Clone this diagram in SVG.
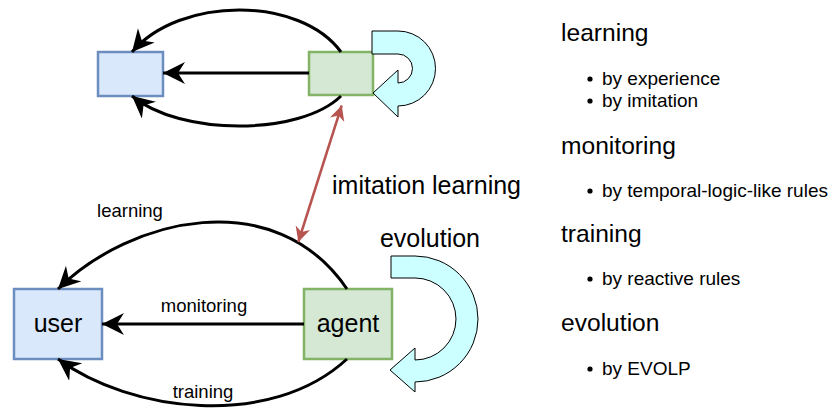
<svg xmlns="http://www.w3.org/2000/svg" width="828" height="411" viewBox="0 0 828 411">
<style>
.blue{fill:#dae8fc;stroke:#6c8ebf;stroke-width:2.5}
.green{fill:#d5e8d4;stroke:#82b366;stroke-width:2.5}
.cyan{fill:#ccffff;stroke:#000;stroke-width:1;stroke-linejoin:miter}
.edge{fill:none;stroke:#000;stroke-width:3;marker-end:url(#ah)}
.red{fill:none;stroke:#b85450;stroke-width:2.5;marker-start:url(#rh);marker-end:url(#rh)}
text{font-family:"Liberation Sans",Arial,Helvetica,sans-serif;fill:#000}
.big{font-size:25px}
.head{font-size:24.6px}
.bul{font-size:19px}
.lbl{font-size:18.5px}
</style>
<defs>
<marker id="ah" markerUnits="userSpaceOnUse" markerWidth="24" markerHeight="24" refX="22" refY="11" orient="auto" viewBox="0 0 24 24">
<path d="M0,0 L22,11 L0,22 L7,11 Z" fill="#000"/>
</marker>
<marker id="rh" markerUnits="userSpaceOnUse" markerWidth="18" markerHeight="18" refX="15" refY="8" orient="auto-start-reverse" viewBox="0 0 18 18">
<path d="M0,0.5 L15,8 L0,15.5 L4.5,8 Z" fill="#b85450"/>
</marker>
</defs>

<g id="node-top-user"><rect class="blue" x="98" y="52" width="65" height="44"/></g>
<g id="node-top-agent"><rect class="green" x="309" y="52" width="64" height="43"/></g>
<g id="node-user"><rect class="blue" x="14" y="289" width="88" height="70"/><text class="big" x="58" y="332" text-anchor="middle">user</text></g>
<g id="node-agent"><rect class="green" x="304" y="289" width="88" height="70"/><text class="big" x="348" y="332" text-anchor="middle">agent</text></g>

<g id="node-top-evolution"><path class="cyan" d="M372,31 L398,31 A37.5,37.5 0 0 1 398,106 L398,117 L373,93 L398,70 L398,83 A14.5,14.5 0 0 0 398,54 L372,54 Z"/></g>
<g id="node-evolution"><path class="cyan" d="M391,256 L415,256 A63,63 0 0 1 415,382 L415,392 L390,370 L415,348 L415,360 A41,41 0 0 0 415,278 L391,278 Z"/><text class="big" x="430" y="247" text-anchor="middle">evolution</text></g>

<g id="connectors">
<path class="edge" d="M341,52 C300,-4 180,-4 132,52"/>
<path class="edge" d="M309,73 L163,73"/>
<path class="edge" d="M341,96 C300,136 180,136 132,96"/>
<path class="edge" d="M347,289 C275,183 130,218 58,289"/>
<path class="edge" d="M304,324 L102,324"/>
<path class="edge" d="M347,359 C270,430 130,412 58,359"/>
<path class="red" d="M341.7,105.5 L298.3,242"/>
<text class="lbl" x="130" y="217" text-anchor="middle">learning</text>
<text class="lbl" x="204" y="312" text-anchor="middle">monitoring</text>
<text class="lbl" x="203" y="398" text-anchor="middle">training</text>
<text class="big" x="332" y="194">imitation learning</text>
</g>

<g id="legend">
<text class="head" x="561" y="41">learning</text>
<circle cx="590" cy="79" r="2.6"/><text class="bul" x="602" y="85">by experience</text>
<circle cx="590" cy="101" r="2.6"/><text class="bul" x="602" y="107">by imitation</text>
<text class="head" x="561" y="154">monitoring</text>
<circle cx="590" cy="191" r="2.6"/><text class="bul" x="602" y="197">by temporal-logic-like rules</text>
<text class="head" x="561" y="242">training</text>
<circle cx="590" cy="279" r="2.6"/><text class="bul" x="602" y="285">by reactive rules</text>
<text class="head" x="561" y="331">evolution</text>
<circle cx="590" cy="369" r="2.6"/><text class="bul" x="602" y="375">by EVOLP</text>
</g>
</svg>
